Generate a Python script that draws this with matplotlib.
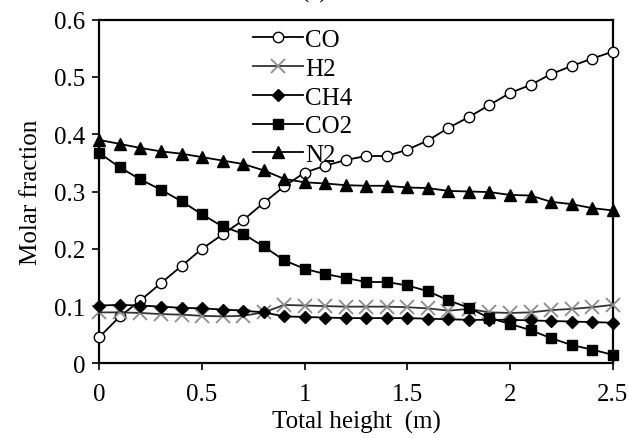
import matplotlib
matplotlib.use("Agg")
import matplotlib.pyplot as plt

# height along the reactor (m)
height = [0.0, 0.1, 0.2, 0.3, 0.4, 0.5, 0.6, 0.7, 0.8, 0.9, 1.0, 1.1, 1.2,
          1.3, 1.4, 1.5, 1.6, 1.7, 1.8, 1.9, 2.0, 2.1, 2.2, 2.3, 2.4, 2.5]

co = [0.046, 0.082, 0.110, 0.140, 0.170, 0.200, 0.225, 0.250, 0.280, 0.309,
      0.333, 0.345, 0.355, 0.362, 0.362, 0.373, 0.389, 0.411, 0.430, 0.451,
      0.472, 0.486, 0.505, 0.519, 0.532, 0.544]
h2 = [0.089, 0.089, 0.088, 0.086, 0.085, 0.083, 0.082, 0.083, 0.089, 0.102,
      0.101, 0.100, 0.099, 0.099, 0.099, 0.098, 0.096, 0.092, 0.095, 0.089,
      0.088, 0.089, 0.093, 0.095, 0.098, 0.102]
ch4 = [0.101, 0.102, 0.101, 0.099, 0.097, 0.096, 0.094, 0.092, 0.089, 0.082,
       0.081, 0.080, 0.079, 0.079, 0.079, 0.079, 0.078, 0.077, 0.076, 0.076,
       0.076, 0.075, 0.074, 0.073, 0.072, 0.071]
co2 = [0.367, 0.342, 0.321, 0.303, 0.283, 0.260, 0.239, 0.226, 0.204, 0.180,
       0.165, 0.156, 0.149, 0.142, 0.142, 0.136, 0.126, 0.110, 0.097, 0.079,
       0.069, 0.058, 0.044, 0.032, 0.024, 0.015]
n2 = [0.390, 0.383, 0.376, 0.370, 0.366, 0.360, 0.354, 0.348, 0.337, 0.322,
      0.316, 0.314, 0.311, 0.310, 0.310, 0.307, 0.306, 0.301, 0.300, 0.299,
      0.294, 0.293, 0.282, 0.278, 0.271, 0.267]

plt.rcParams['font.family'] = ['Liberation Serif', 'DejaVu Serif']
fs = 18

fig = plt.figure(figsize=(6.29, 4.39), dpi=100)
ax = fig.add_axes([0.158, 0.170, 0.816, 0.783])

lw = 1.3
ax.plot(height, co, '-o', color='black', lw=lw, ms=7.5, mfc='white', mec='black',
        mew=1.0, label='CO', clip_on=False, zorder=3)
ax.plot(height, h2, '-x', color='#333333', lw=lw, ms=10, mec='#8c8c8c',
        mew=1.3, label='H2', clip_on=False, zorder=3)
ax.plot(height, ch4, '-D', color='black', lw=lw, ms=6, label='CH4',
        clip_on=False, zorder=3)
ax.plot(height, co2, '-s', color='black', lw=lw, ms=7.5, label='CO2',
        clip_on=False, zorder=3)
ax.plot(height, n2, '-^', color='black', lw=lw, ms=8, label='N2',
        clip_on=False, zorder=3)

ax.set_xlim(0, 2.5)
ax.set_ylim(0, 0.6)
ax.set_xticks([0, 0.5, 1, 1.5, 2, 2.5])
ax.set_xticklabels(['0', '0.5', '1', '1.5', '2', '2.5'])
ax.set_yticks([0, 0.1, 0.2, 0.3, 0.4, 0.5, 0.6])
ax.set_yticklabels(['0', '0.1', '0.2', '0.3', '0.4', '0.5', '0.6'])
ax.tick_params(direction='out', length=5, width=1.2, labelsize=fs)
ax.tick_params(axis='y', pad=5)
ax.tick_params(axis='x', pad=9)
for s in ax.spines.values():
    s.set_linewidth(1.6)

ax.set_xlabel('Total height  (m)', fontsize=fs, labelpad=4)
ax.set_ylabel('Molar fraction', fontsize=fs, labelpad=9)

ax.legend(loc='upper left', bbox_to_anchor=(0.265, 1.025), frameon=False,
          handlelength=2.0, handletextpad=0.1, labelspacing=0.25,
          borderaxespad=0.3, fontsize=fs)

fig.text(0.5, 1.0 + 2 / 439, '(a)', ha='center', va='baseline', fontsize=fs)

fig.savefig('out.png', dpi=100)
